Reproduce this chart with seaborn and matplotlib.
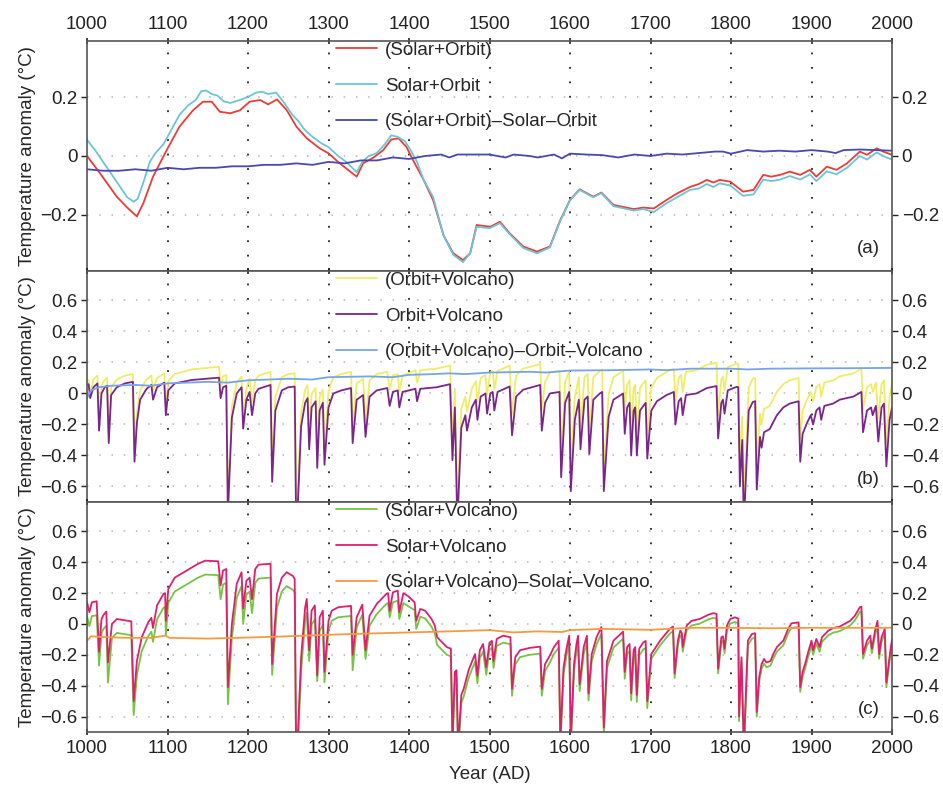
import numpy as np
import pandas as pd
import matplotlib
matplotlib.use("Agg")
import matplotlib.pyplot as plt
import seaborn as sns

# ---------------- data (year, anomaly) ----------------
# Panel (a)
a_combined = [(1000,0.0),(1016,-0.058),(1037,-0.138),(1050,-0.175),(1062,-0.205),(1070,-0.16),(1082,-0.07),
    (1099,0.02),(1115,0.10),(1132,0.156),(1144,0.184),(1155,0.184),(1165,0.15),(1178,0.145),(1190,0.155),
    (1202,0.184),(1215,0.19),(1225,0.175),(1236,0.192),(1248,0.156),(1260,0.10),(1273,0.06),(1289,0.026),
    (1300,0.009),(1314,-0.025),(1327,-0.053),(1335,-0.07),(1343,-0.025),(1356,-0.005),(1368,0.02),(1378,0.056),
    (1387,0.06),(1397,0.03),(1405,-0.014),(1418,-0.08),(1430,-0.15),(1443,-0.27),(1455,-0.33),(1467,-0.353),
    (1476,-0.33),(1484,-0.234),(1501,-0.24),(1513,-0.223),(1525,-0.262),(1542,-0.307),(1559,-0.324),
    (1575,-0.307),(1588,-0.217),(1600,-0.149),(1612,-0.113),(1629,-0.138),(1639,-0.124),(1654,-0.166),
    (1679,-0.18),(1691,-0.175),(1704,-0.178),(1720,-0.149),(1733,-0.127),(1749,-0.105),(1760,-0.095),
    (1770,-0.081),(1778,-0.09),(1786,-0.081),(1799,-0.087),(1815,-0.121),(1828,-0.115),(1840,-0.064),
    (1850,-0.07),(1861,-0.064),(1873,-0.053),(1886,-0.064),(1898,-0.047),(1906,-0.07),(1919,-0.036),
    (1931,-0.047),(1944,-0.025),(1960,0.015),(1969,0.004),(1981,0.026),(1989,0.015),(2000,0.004)]
a_sum = [(1000,0.055),(1010,0.02),(1020,-0.02),(1035,-0.08),(1050,-0.14),(1058,-0.155),(1063,-0.145),
    (1070,-0.09),(1078,-0.02),(1085,0.01),(1095,0.04),(1105,0.09),(1115,0.14),(1125,0.17),(1135,0.19),
    (1142,0.22),(1148,0.222),(1155,0.21),(1162,0.205),(1170,0.185),(1178,0.18),(1190,0.19),(1200,0.2),
    (1210,0.215),(1218,0.218),(1225,0.21),(1235,0.215),(1245,0.18),(1255,0.14),(1262,0.12),(1270,0.09),
    (1278,0.07),(1290,0.045),(1300,0.03),(1312,0.0),(1322,-0.02),(1335,-0.055),(1342,-0.02),(1350,0.0),
    (1360,0.01),(1370,0.04),(1378,0.07),(1386,0.065),(1395,0.05),(1402,0.02),(1410,-0.02),(1418,-0.08),
    (1430,-0.14),(1443,-0.27),(1455,-0.335),(1467,-0.36),(1476,-0.33),(1484,-0.24),(1500,-0.245),
    (1513,-0.228),(1525,-0.265),(1542,-0.312),(1559,-0.33),(1575,-0.31),(1588,-0.22),(1600,-0.15),
    (1612,-0.115),(1629,-0.14),(1639,-0.126),(1654,-0.17),(1679,-0.185),(1691,-0.18),(1704,-0.19),
    (1720,-0.16),(1733,-0.14),(1749,-0.115),(1760,-0.11),(1770,-0.095),(1778,-0.105),(1786,-0.093),
    (1799,-0.1),(1815,-0.135),(1828,-0.13),(1840,-0.08),(1850,-0.085),(1861,-0.08),(1873,-0.068),
    (1886,-0.08),(1898,-0.062),(1906,-0.085),(1919,-0.052),(1931,-0.062),(1944,-0.04),(1960,0.0),
    (1969,-0.012),(1981,0.012),(1989,0.0),(2000,-0.012)]
a_diff = [(1000,-0.045),(1020,-0.05),(1040,-0.05),(1060,-0.045),(1080,-0.05),(1100,-0.04),(1120,-0.045),
    (1140,-0.04),(1160,-0.04),(1180,-0.035),(1200,-0.035),(1220,-0.03),(1240,-0.03),(1260,-0.025),
    (1280,-0.03),(1300,-0.02),(1320,-0.025),(1340,-0.015),(1360,-0.015),(1380,-0.005),(1400,-0.01),
    (1420,0.0),(1440,0.005),(1450,-0.005),(1460,0.005),(1480,0.005),(1500,0.005),(1520,-0.005),
    (1530,0.005),(1550,0.0),(1560,-0.005),(1580,0.005),(1590,-0.008),(1600,0.008),(1620,0.005),
    (1640,0.003),(1660,-0.005),(1680,0.005),(1700,0.0),(1720,0.008),(1740,0.005),(1760,0.01),
    (1780,0.015),(1790,0.015),(1800,0.008),(1820,0.02),(1840,0.015),(1860,0.018),(1880,0.015),
    (1900,0.02),(1920,0.015),(1930,0.01),(1940,0.02),(1960,0.022),(1980,0.02),(2000,0.018)]

# Panel (b): (year, Orbit+Volcano sum, combined run)
b_series = [(1000,0.055,0.075),(1002,0.06,0.085),(1004,-0.03,0.0),(1008,0.04,0.09),(1013,0.065,0.115),
    (1015,-0.24,-0.19),(1018,0.0,0.05),(1022,0.04,0.09),(1025,0.05,0.10),(1027,-0.32,-0.27),(1030,-0.01,0.04),
    (1037,0.04,0.09),(1047,0.065,0.115),(1057,0.075,0.125),(1059,-0.44,-0.39),(1062,-0.19,-0.13),
    (1066,-0.04,0.02),(1074,0.03,0.09),(1080,0.055,0.115),(1082,-0.04,0.02),(1087,0.04,0.10),(1096,0.07,0.13),
    (1098,-0.14,-0.08),(1101,0.02,0.08),(1109,0.065,0.125),(1130,0.087,0.155),(1164,0.102,0.172),
    (1166,-0.03,0.04),(1169,0.04,0.11),(1173,0.05,0.12),(1175,-0.78,-0.71),(1180,-0.155,-0.085),
    (1186,0.0,0.07),(1192,0.04,0.11),(1194,-0.227,-0.157),(1198,-0.04,0.03),(1202,0.01,0.095),
    (1205,-0.14,-0.055),(1209,0.0,0.085),(1213,0.03,0.115),(1228,0.055,0.14),(1230,-0.57,-0.485),
    (1234,-0.11,-0.025),(1242,0.02,0.105),(1250,0.04,0.125),(1258,0.045,0.13),(1260,-0.95,-0.865),
    (1266,-0.21,-0.125),(1271,-0.06,0.025),(1274,-0.03,0.055),(1276,-0.36,-0.275),(1279,-0.09,-0.005),
    (1284,-0.05,0.035),(1286,-0.48,-0.395),(1289,-0.11,-0.025),(1293,-0.06,0.025),(1295,-0.46,-0.375),
    (1300,-0.09,0.015),(1306,0.0,0.105),(1316,0.02,0.125),(1328,0.035,0.14),(1330,-0.32,-0.215),
    (1335,-0.04,0.065),(1343,-0.01,0.095),(1346,-0.28,-0.175),(1351,-0.02,0.085),(1360,0.02,0.125),
    (1373,0.035,0.14),(1376,-0.08,0.025),(1380,0.01,0.115),(1386,0.02,0.125),(1388,-0.09,0.015),
    (1392,0.01,0.115),(1408,0.03,0.15),(1410,-0.05,0.07),(1414,0.03,0.15),(1434,0.04,0.16),(1451,0.06,0.18),
    (1454,-0.43,-0.31),(1457,-0.09,0.03),(1460,-0.85,-0.73),(1465,-0.22,-0.10),(1470,-0.14,-0.02),
    (1472,-0.24,-0.12),(1478,-0.09,0.03),(1483,-0.04,0.08),(1485,-0.17,-0.05),(1489,-0.02,0.10),
    (1495,0.0,0.12),(1497,-0.13,-0.01),(1501,0.0,0.135),(1504,0.01,0.145),(1506,-0.11,0.025),
    (1510,0.01,0.145),(1525,0.045,0.18),(1528,-0.27,-0.135),(1533,-0.02,0.115),(1542,0.025,0.16),
    (1563,0.055,0.19),(1565,-0.24,-0.105),(1569,-0.06,0.075),(1575,0.0,0.135),(1587,0.01,0.145),
    (1589,-0.54,-0.405),(1594,-0.06,0.075),(1599,0.01,0.145),(1601,-0.63,-0.485),(1606,-0.17,-0.025),
    (1611,-0.04,0.105),(1613,-0.36,-0.215),(1618,-0.04,0.105),(1622,-0.02,0.125),(1624,-0.39,-0.245),
    (1629,-0.04,0.105),(1637,0.0,0.145),(1640,0.01,0.155),(1642,-0.63,-0.485),(1648,-0.15,-0.005),
    (1654,-0.04,0.105),(1666,0.0,0.145),(1668,-0.26,-0.115),(1671,-0.09,0.055),(1674,-0.06,0.085),
    (1676,-0.40,-0.255),(1679,-0.11,0.035),(1681,-0.09,0.055),(1683,-0.40,-0.255),(1687,-0.11,0.035),
    (1694,-0.06,0.085),(1696,-0.42,-0.275),(1701,-0.11,0.04),(1708,-0.05,0.10),(1720,-0.01,0.14),
    (1729,0.01,0.16),(1731,-0.20,-0.05),(1735,-0.05,0.10),(1738,-0.03,0.12),(1740,-0.14,0.01),
    (1744,-0.01,0.14),(1757,0.0,0.15),(1770,0.035,0.185),(1782,0.048,0.198),(1784,-0.29,-0.14),
    (1788,-0.06,0.09),(1790,-0.04,0.11),(1792,-0.13,0.02),(1796,0.02,0.17),(1807,0.043,0.193),
    (1809,0.04,0.19),(1811,-0.60,-0.45),(1814,-0.30,-0.15),(1816,-0.85,-0.70),(1822,-0.11,0.04),
    (1827,-0.055,0.095),(1830,-0.05,0.10),(1832,-0.62,-0.47),(1836,-0.28,-0.13),(1838,-0.35,-0.20),
    (1841,-0.25,-0.10),(1848,-0.23,-0.08),(1857,-0.14,0.01),(1865,-0.09,0.06),(1873,-0.065,0.085),
    (1884,-0.05,0.10),(1886,-0.44,-0.29),(1889,-0.26,-0.11),(1894,-0.195,-0.045),(1899,-0.14,0.01),
    (1902,-0.20,-0.05),(1906,-0.11,0.04),(1910,-0.09,0.06),(1912,-0.17,-0.02),(1916,-0.08,0.07),
    (1927,-0.065,0.085),(1935,-0.04,0.11),(1952,-0.02,0.13),(1962,0.01,0.16),(1964,-0.25,-0.10),
    (1969,-0.11,0.04),(1974,-0.09,0.06),(1976,-0.14,0.01),(1980,-0.08,0.07),(1983,-0.31,-0.16),
    (1987,-0.09,0.06),(1990,-0.065,0.085),(1993,-0.47,-0.32),(1997,-0.17,-0.02),(2000,-0.09,0.06)]
b_diff = [(1000,-0.03),(1005,0.02),(1015,0.04),(1030,0.05),(1060,0.055),(1080,0.05),(1100,0.065),
    (1150,0.075),(1175,0.07),(1200,0.085),(1250,0.095),(1280,0.09),(1300,0.105),(1350,0.11),(1380,0.105),
    (1400,0.12),(1430,0.125),(1450,0.13),(1470,0.125),(1500,0.135),(1550,0.14),(1570,0.135),(1600,0.148),
    (1650,0.15),(1700,0.155),(1720,0.15),(1750,0.16),(1800,0.16),(1820,0.155),(1850,0.16),(1900,0.162),
    (1950,0.163),(2000,0.165)]

# Panel (c): (year, Solar+Volcano sum, combined run)
c_series = [(1000,0.14,0.05),(1003,0.076,-0.014),(1006,0.14,0.05),(1012,0.147,0.057),(1015,-0.18,-0.27),
    (1018,0.03,-0.06),(1020,0.054,-0.036),(1024,0.08,-0.01),(1026,-0.25,-0.38),(1031,0.0,-0.09),
    (1037,0.032,-0.058),(1055,0.017,-0.073),(1058,-0.50,-0.59),(1062,-0.24,-0.33),(1068,-0.086,-0.176),
    (1076,0.01,-0.08),(1080,0.04,-0.05),(1082,-0.026,-0.116),(1087,0.12,0.03),(1095,0.195,0.105),
    (1097,0.20,0.11),(1098,0.02,-0.07),(1101,0.227,0.137),(1109,0.30,0.21),(1122,0.34,0.25),(1138,0.39,0.30),
    (1147,0.41,0.32),(1163,0.406,0.316),(1166,0.25,0.16),(1169,0.346,0.256),(1173,0.356,0.266),
    (1175,-0.41,-0.52),(1180,0.0,-0.09),(1186,0.26,0.17),(1192,0.335,0.245),(1194,0.10,0.0),(1198,0.28,0.19),
    (1202,0.30,0.21),(1205,0.16,0.07),(1209,0.356,0.266),(1213,0.384,0.294),(1228,0.39,0.30),
    (1230,-0.26,-0.33),(1236,0.195,0.105),(1242,0.30,0.21),(1248,0.335,0.245),(1256,0.31,0.22),
    (1258,0.29,0.20),(1260,-0.95,-1.04),(1266,-0.216,-0.306),(1271,0.108,0.018),(1273,0.162,0.072),
    (1276,-0.17,-0.24),(1279,0.086,-0.004),(1283,0.12,0.03),(1286,-0.335,-0.37),(1289,0.043,-0.047),
    (1293,0.086,-0.004),(1295,-0.31,-0.378),(1300,0.02,-0.045),(1304,0.086,0.021),(1312,0.108,0.043),
    (1328,0.117,0.052),(1330,-0.20,-0.30),(1335,0.043,-0.022),(1342,0.125,0.06),(1346,-0.17,-0.227),
    (1351,0.054,-0.011),(1360,0.13,0.065),(1372,0.195,0.13),(1374,0.20,0.135),(1376,0.086,0.043),
    (1380,0.205,0.14),(1386,0.216,0.151),(1388,0.076,0.032),(1393,0.20,0.135),(1399,0.18,0.115),
    (1407,0.14,0.09),(1409,0.02,-0.032),(1414,0.097,0.047),(1420,0.086,0.036),(1428,0.032,-0.018),
    (1432,-0.01,-0.06),(1435,-0.086,-0.136),(1439,-0.108,-0.158),(1447,-0.15,-0.20),(1452,-0.16,-0.21),
    (1454,-0.75,-0.80),(1457,-0.31,-0.36),(1459,-0.30,-0.35),(1461,-0.80,-0.85),(1465,-0.46,-0.51),
    (1468,-0.42,-0.47),(1474,-0.30,-0.35),(1482,-0.195,-0.245),(1485,-0.335,-0.385),(1488,-0.17,-0.22),
    (1492,-0.13,-0.18),(1496,-0.28,-0.33),(1500,-0.12,-0.165),(1503,-0.11,-0.155),(1505,-0.24,-0.285),
    (1509,-0.097,-0.142),(1517,-0.076,-0.121),(1526,-0.086,-0.131),(1528,-0.42,-0.465),(1532,-0.216,-0.261),
    (1538,-0.17,-0.215),(1550,-0.155,-0.20),(1563,-0.147,-0.192),(1565,-0.42,-0.465),(1569,-0.26,-0.305),
    (1575,-0.205,-0.25),(1580,-0.15,-0.195),(1586,-0.108,-0.153),(1588,-0.75,-0.80),(1592,-0.28,-0.325),
    (1596,-0.15,-0.195),(1599,-0.076,-0.121),(1601,-0.75,-0.80),(1605,-0.26,-0.305),(1608,-0.13,-0.175),
    (1610,-0.076,-0.121),(1612,-0.39,-0.435),(1617,-0.15,-0.195),(1621,-0.076,-0.121),(1623,-0.45,-0.495),
    (1627,-0.195,-0.24),(1633,-0.086,-0.131),(1639,-0.02,-0.065),(1642,-0.67,-0.715),(1646,-0.24,-0.285),
    (1654,-0.108,-0.153),(1666,-0.05,-0.095),(1668,-0.31,-0.355),(1671,-0.15,-0.195),(1674,-0.13,-0.175),
    (1676,-0.45,-0.495),(1679,-0.17,-0.215),(1681,-0.15,-0.195),(1683,-0.46,-0.505),(1686,-0.16,-0.205),
    (1691,-0.12,-0.165),(1694,-0.11,-0.155),(1696,-0.50,-0.545),(1701,-0.195,-0.225),(1712,-0.108,-0.138),
    (1724,-0.032,-0.062),(1728,-0.017,-0.047),(1730,-0.32,-0.35),(1734,-0.108,-0.138),(1737,-0.043,-0.073),
    (1739,-0.06,-0.09),(1740,-0.15,-0.18),(1745,-0.01,-0.04),(1751,0.02,-0.01),(1761,0.032,0.002),
    (1772,0.06,0.03),(1778,0.07,0.04),(1782,0.065,0.035),(1784,-0.29,-0.32),(1788,-0.086,-0.116),
    (1790,-0.08,-0.11),(1792,-0.16,-0.19),(1795,-0.01,-0.04),(1799,0.032,0.002),(1805,0.043,0.013),
    (1809,0.035,0.005),(1810,-0.60,-0.63),(1813,-0.216,-0.246),(1816,-0.80,-0.83),(1821,-0.108,-0.138),
    (1826,-0.065,-0.095),(1830,-0.06,-0.09),(1832,-0.57,-0.60),(1835,-0.345,-0.375),(1838,-0.26,-0.29),
    (1841,-0.227,-0.257),(1844,-0.25,-0.28),(1849,-0.24,-0.27),(1853,-0.19,-0.22),(1857,-0.15,-0.18),
    (1865,-0.108,-0.138),(1871,-0.032,-0.062),(1875,0.004,-0.026),(1884,0.01,-0.02),(1886,-0.41,-0.44),
    (1889,-0.31,-0.34),(1892,-0.26,-0.29),(1896,-0.18,-0.21),(1900,-0.108,-0.138),(1902,-0.17,-0.20),
    (1906,-0.097,-0.127),(1910,-0.15,-0.18),(1913,-0.086,-0.116),(1921,-0.043,-0.073),(1927,-0.026,-0.056),
    (1935,-0.017,-0.047),(1948,0.02,-0.01),(1954,0.054,0.024),(1960,0.108,0.078),(1962,0.112,0.082),
    (1964,-0.195,-0.225),(1969,-0.108,-0.138),(1973,-0.076,-0.106),(1975,-0.16,-0.19),(1979,-0.043,-0.073),
    (1982,0.02,-0.01),(1984,-0.195,-0.225),(1987,-0.086,-0.116),(1991,-0.032,-0.062),(1993,-0.38,-0.41),
    (1998,-0.17,-0.20),(2000,-0.10,-0.13)]
c_diff = [(1000,-0.11),(1005,-0.08),(1020,-0.085),(1050,-0.09),(1080,-0.09),(1098,-0.075),(1102,-0.09),
    (1150,-0.095),(1200,-0.088),(1250,-0.08),(1300,-0.07),(1350,-0.062),(1400,-0.055),(1450,-0.048),
    (1500,-0.04),(1530,-0.055),(1560,-0.048),(1590,-0.052),(1600,-0.04),(1640,-0.032),(1700,-0.038),
    (1750,-0.025),(1800,-0.025),(1850,-0.028),(1900,-0.025),(2000,-0.025)]

labels_a = ["(Solar+Orbit)", "Solar+Orbit", "(Solar+Orbit)\u2013Solar\u2013Orbit"]
labels_b = ["(Orbit+Volcano)", "Orbit+Volcano", "(Orbit+Volcano)\u2013Orbit\u2013Volcano"]
labels_c = ["(Solar+Volcano)", "Solar+Volcano", "(Solar+Volcano)\u2013Solar\u2013Volcano"]
year_ticks = list(range(1000, 2001, 100))

# ---------------- figure ----------------
sns.set_style("white")
plt.rcParams['font.family'] = ['Liberation Sans', 'DejaVu Sans']
FS = 13.5

fig = plt.figure(figsize=(9.43, 7.87), dpi=100)
W = 805 / 943
ax_a = fig.add_axes([87/943, 1-271/787, W, 230/787])
ax_b = fig.add_axes([87/943, 1-502/787, W, 231/787])
ax_c = fig.add_axes([87/943, 1-732/787, W, 230/787])

def line(ax, pairs, idx, color, label, lw=1.3):
    yrs = [p[0] for p in pairs]
    vals = [p[idx] for p in pairs]
    sns.lineplot(x=yrs, y=vals, ax=ax, color=color, lw=lw, label=label,
                 estimator=None, sort=False)

line(ax_a, a_combined, 1, '#ee3b36', labels_a[0])
line(ax_a, a_sum, 1, '#6cc5d6', labels_a[1])
line(ax_a, a_diff, 1, '#4848b0', labels_a[2])

line(ax_b, b_series, 2, '#eeee66', labels_b[0])
line(ax_b, b_series, 1, '#7a2589', labels_b[1])
line(ax_b, b_diff, 1, '#77a3e8', labels_b[2])

line(ax_c, c_series, 2, '#76c443', labels_c[0])
line(ax_c, c_series, 1, '#de1f6c', labels_c[1])
line(ax_c, c_diff, 1, '#f59a3e', labels_c[2])

ylims = {ax_a: (-0.39, 0.39), ax_b: (-0.70, 0.79), ax_c: (-0.70, 0.79)}
yticks = {ax_a: [-0.2, 0, 0.2], ax_b: [-0.6, -0.4, -0.2, 0, 0.2, 0.4, 0.6],
          ax_c: [-0.6, -0.4, -0.2, 0, 0.2, 0.4, 0.6]}
tags = {ax_a: "(a)", ax_b: "(b)", ax_c: "(c)"}

def fmt(v):
    if abs(v) < 1e-9:
        return "0"
    s = f"{abs(v):.1f}"
    return ("\u2212" + s) if v < 0 else s

for ax in (ax_a, ax_b, ax_c):
    ax.set_xlim(1000, 2000)
    ax.set_ylim(*ylims[ax])
    ax.set_xticks(year_ticks)
    ax.set_yticks(yticks[ax])
    ax.set_yticklabels([fmt(v) for v in yticks[ax]])
    for yv in yticks[ax]:
        ax.axhline(yv, color='#b5b5b5', lw=1.1, ls=(0, (1, 7)), zorder=0)
    for xv in year_ticks[1:-1]:
        ax.axvline(xv, color='#222222', lw=1.3, ls=(0, (1, 7)), zorder=0)
    ax.tick_params(axis='y', which='both', left=True, right=True, labelleft=True, labelright=True,
                   direction='out', length=4, width=1, labelsize=FS, colors='#222222', pad=3)
    ax.tick_params(axis='x', which='both', top=True, bottom=True, direction='inout', length=5,
                   width=1.2, labelsize=FS, colors='#222222')
    for sp in ax.spines.values():
        sp.set_color('#555555')
        sp.set_linewidth(1.2)
    ax.set_ylabel("Temperature anomaly (\u00b0C)", fontsize=FS, labelpad=3)
    ax.text(0.985, 0.06, tags[ax], transform=ax.transAxes, ha='right', va='bottom', fontsize=FS)
    ax.legend(loc='upper left', bbox_to_anchor=(0.30, 1.03), frameon=False, fontsize=FS,
              handlelength=2.2, handletextpad=0.4, labelspacing=1.0, borderaxespad=0)

ax_a.tick_params(axis='x', labeltop=True, labelbottom=False)
ax_b.tick_params(axis='x', labeltop=False, labelbottom=False)
ax_c.tick_params(axis='x', labeltop=False, labelbottom=True)
ax_c.set_xlabel("Year (AD)", fontsize=FS, labelpad=6)

fig.savefig("out.png", dpi=100)
